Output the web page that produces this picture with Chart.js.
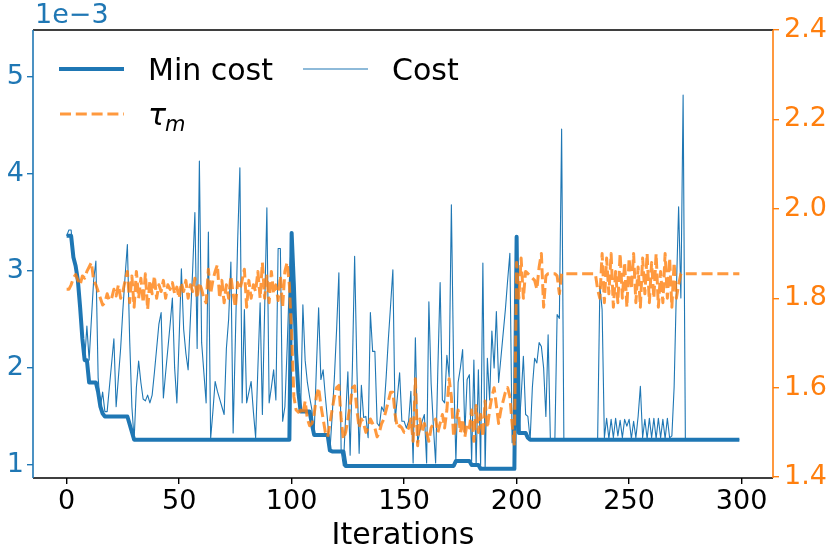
<!DOCTYPE html>
<html><head><meta charset="utf-8">
<script src="https://cdn.jsdelivr.net/npm/chart.js@4/dist/chart.umd.min.js"></script>
<style>html,body{margin:0;padding:0;background:#fff}canvas{display:block}</style>
</head><body>
<canvas id="c" width="830" height="554"></canvas>
<script>
// ---- data (cost values in units of 1e-3) ----
const xTicks = [0, 50, 100, 150, 200, 250, 300];
const yTicks = [1, 2, 3, 4, 5];
const tauTicks = [1.4, 1.6, 1.8, 2.0, 2.2, 2.4];
const offsetLabel = "1e\u22123";
const xLabel = "Iterations";
const seriesNames = ["Min cost", "Cost", "\u03c4"];

const minCost = [
3.36,3.36,3.36,3.14,3.05,2.9,2.62,2.3,2.08,2.08,
1.85,1.85,1.85,1.85,1.75,1.6,1.53,1.5,1.5,1.5,
1.5,1.5,1.5,1.5,1.5,1.5,1.5,1.5,1.42,1.34,
1.26,1.26,1.26,1.26,1.26,1.26,1.26,1.26,1.26,1.26,
1.26,1.26,1.26,1.26,1.26,1.26,1.26,1.26,1.26,1.26,
1.26,1.26,1.26,1.26,1.26,1.26,1.26,1.26,1.26,1.26,
1.26,1.26,1.26,1.26,1.26,1.26,1.26,1.26,1.26,1.26,
1.26,1.26,1.26,1.26,1.26,1.26,1.26,1.26,1.26,1.26,
1.26,1.26,1.26,1.26,1.26,1.26,1.26,1.26,1.26,1.26,
1.26,1.26,1.26,1.26,1.26,1.26,1.26,1.26,1.26,1.26,
3.39,2.85,2.15,1.75,1.55,1.55,1.55,1.55,1.55,1.42,
1.31,1.31,1.31,1.31,1.31,1.31,1.31,1.15,1.14,1.14,
1.14,1.14,1.14,1.14,0.99,0.99,0.99,0.99,0.99,0.99,
0.99,0.99,0.99,0.99,0.99,0.99,0.99,0.99,0.99,0.99,
0.99,0.99,0.99,0.99,0.99,0.99,0.99,0.99,0.99,0.99,
0.99,0.99,0.99,0.99,0.99,0.99,0.99,0.99,0.99,0.99,
0.99,0.99,0.99,0.99,0.99,0.99,0.99,0.99,0.99,0.99,
0.99,0.99,0.99,1.04,1.04,1.04,1.04,1.04,1.04,1.04,
1.0,1.0,1.0,1.0,0.96,0.96,0.96,0.96,0.96,0.96,
0.96,0.96,0.96,0.96,0.96,0.96,0.96,0.96,0.96,0.96,
3.35,1.33,1.33,1.33,1.33,1.28,1.26,1.26,1.26,1.26,
1.26,1.26,1.26,1.26,1.26,1.26,1.26,1.26,1.26,1.26,
1.26,1.26,1.26,1.26,1.26,1.26,1.26,1.26,1.26,1.26,
1.26,1.26,1.26,1.26,1.26,1.26,1.26,1.26,1.26,1.26,
1.26,1.26,1.26,1.26,1.26,1.26,1.26,1.26,1.26,1.26,
1.26,1.26,1.26,1.26,1.26,1.26,1.26,1.26,1.26,1.26,
1.26,1.26,1.26,1.26,1.26,1.26,1.26,1.26,1.26,1.26,
1.26,1.26,1.26,1.26,1.26,1.26,1.26,1.26,1.26,1.26,
1.26,1.26,1.26,1.26,1.26,1.26,1.26,1.26,1.26,1.26,
1.26,1.26,1.26,1.26,1.26,1.26,1.26,1.26,1.26,1.26
];

const cost = [
3.36,3.42,3.42,3.14,3.05,2.9,2.62,2.3,2.08,2.43,
2.08,2.5,2.9,3.1,1.9,1.6,1.75,1.55,1.55,1.8,
2.05,2.3,1.6,1.9,2.2,2.6,2.95,3.27,2.3,1.6,
1.26,1.8,2.07,1.85,1.68,1.66,1.72,1.64,1.72,1.95,
2.2,2.45,2.57,1.69,1.95,2.2,2.45,2.72,2.0,1.64,
2.3,3.02,2.4,2.15,1.98,2.5,3.0,3.6,2.2,4.13,
2.26,1.95,1.64,3.4,1.27,1.55,1.86,1.76,1.68,1.6,
1.52,2.2,2.5,3.09,1.33,2.3,3.3,4.06,1.64,2.6,
1.64,1.75,1.86,1.55,1.28,2.0,2.67,1.52,2.6,3.65,
1.64,1.8,1.98,1.67,3.23,3.23,1.45,1.6,2.2,2.9,
3.39,2.85,2.15,1.75,1.55,2.65,2.08,1.85,1.7,1.57,
1.31,2.0,2.62,1.88,1.98,1.7,1.45,1.14,1.5,1.9,
2.4,2.98,1.15,0.99,1.5,1.96,1.1,2.0,3.15,2.0,
1.12,1.82,1.49,1.5,1.28,2.57,2.17,2.17,1.43,1.4,
1.6,1.55,1.9,2.3,2.65,3.01,1.45,1.7,1.95,1.45,
1.45,1.38,1.45,1.76,1.02,2.31,1.23,1.35,1.45,1.52,
1.02,2.68,1.84,1.4,1.02,2.0,2.88,1.67,1.64,2.13,
1.91,3.68,2.0,1.04,1.85,2.0,2.19,1.33,1.88,1.93,
1.04,2.08,1.0,1.98,1.0,3.08,0.96,2.1,1.67,2.38,
2.0,2.58,1.85,2.1,2.35,2.6,2.9,3.18,1.23,1.6,
3.35,1.33,1.7,2.12,1.52,1.5,1.26,1.8,2.1,2.05,
2.26,2.22,2.0,1.5,2.34,1.26,1.26,1.26,2.55,2.51,
4.46,1.26,1.26,1.26,1.26,1.26,1.26,1.26,1.26,1.26,
1.26,1.26,1.26,1.26,1.26,1.26,1.26,2.84,2.6,1.28,
1.48,1.27,1.47,1.28,1.48,1.3,1.46,1.28,1.47,1.4,
1.47,1.27,1.45,1.28,1.5,1.81,1.28,1.47,1.27,1.48,
1.28,1.48,1.27,1.48,1.28,1.47,1.27,1.48,1.28,1.3,
1.8,2.8,3.66,2.72,4.81,1.26,1.26,1.26,1.26,1.26,
1.26,1.26,1.26,1.26,1.26,1.26,1.26,1.26,1.26,1.26,
1.26,1.26,1.26,1.26,1.26,1.26,1.26,1.26,1.26,1.26
];

const tau = [
1.82,1.82,1.83,1.845,1.853,1.84,1.83,1.85,1.845,1.86,
1.87,1.88,1.84,1.83,1.815,1.80,1.785,1.79,1.81,1.795,
1.80,1.82,1.805,1.83,1.80,1.815,1.84,1.86,1.79,1.85,
1.78,1.86,1.80,1.845,1.79,1.855,1.775,1.84,1.81,1.85,
1.80,1.83,1.815,1.84,1.80,1.83,1.82,1.835,1.81,1.825,
1.80,1.835,1.815,1.84,1.80,1.83,1.815,1.845,1.80,1.835,
1.82,1.80,1.79,1.865,1.81,1.84,1.86,1.875,1.80,1.84,
1.79,1.83,1.80,1.85,1.81,1.78,1.835,1.82,1.84,1.865,
1.78,1.84,1.80,1.83,1.815,1.86,1.80,1.88,1.80,1.85,
1.79,1.86,1.81,1.83,1.795,1.85,1.78,1.86,1.88,1.83,
1.72,1.58,1.55,1.545,1.55,1.54,1.57,1.53,1.515,1.52,
1.54,1.58,1.60,1.56,1.53,1.50,1.49,1.52,1.55,1.58,
1.60,1.605,1.53,1.485,1.50,1.53,1.56,1.60,1.604,1.55,
1.51,1.53,1.52,1.50,1.51,1.53,1.52,1.51,1.49,1.50,
1.52,1.53,1.55,1.57,1.59,1.59,1.54,1.51,1.515,1.51,
1.50,1.50,1.51,1.53,1.48,1.62,1.47,1.53,1.50,1.52,
1.50,1.48,1.51,1.52,1.53,1.50,1.52,1.54,1.51,1.55,
1.62,1.58,1.49,1.52,1.55,1.50,1.53,1.49,1.52,1.51,
1.55,1.48,1.56,1.50,1.54,1.49,1.57,1.51,1.55,1.58,
1.60,1.56,1.52,1.55,1.57,1.59,1.60,1.58,1.52,1.47,
1.88,1.80,1.89,1.80,1.86,1.855,1.85,1.845,1.84,1.82,
1.87,1.90,1.78,1.85,1.855,1.855,1.855,1.855,1.85,1.81,
1.855,1.855,1.855,1.855,1.855,1.855,1.855,1.855,1.855,1.855,
1.855,1.855,1.855,1.855,1.855,1.855,1.82,1.80,1.90,1.79,
1.89,1.81,1.90,1.78,1.86,1.79,1.90,1.80,1.88,1.78,
1.89,1.82,1.90,1.79,1.87,1.78,1.89,1.81,1.90,1.79,
1.88,1.80,1.90,1.78,1.86,1.79,1.90,1.80,1.89,1.78,
1.88,1.80,1.83,1.855,1.855,1.855,1.855,1.855,1.855,1.855,
1.855,1.855,1.855,1.855,1.855,1.855,1.855,1.855,1.855,1.855,
1.855,1.855,1.855,1.855,1.855,1.855,1.855,1.855,1.855,1.855
];

// ---- styling ----
const BLUE = '#1f77b4';
const ORANGE = '#ff7f0e';
const ORANGE_A = 'rgba(255,127,14,0.8)';
const FONT = "'DejaVu Sans', sans-serif";

const pts = arr => arr.map((v, i) => ({x: i, y: v}));

const decor = {
  id: 'decor',
  afterDraw(chart) {
    const ctx = chart.ctx, a = chart.chartArea;
    ctx.save();
    ctx.lineWidth = 1.6;
    ctx.strokeStyle = '#000';
    ctx.beginPath(); ctx.moveTo(a.left, a.top); ctx.lineTo(a.right, a.top);
    ctx.moveTo(a.left, a.bottom); ctx.lineTo(a.right, a.bottom); ctx.stroke();
    ctx.strokeStyle = BLUE;
    ctx.beginPath(); ctx.moveTo(a.left, a.top); ctx.lineTo(a.left, a.bottom); ctx.stroke();
    ctx.strokeStyle = ORANGE;
    ctx.beginPath(); ctx.moveTo(a.right, a.top); ctx.lineTo(a.right, a.bottom); ctx.stroke();

    // offset text
    ctx.fillStyle = BLUE;
    ctx.font = '27px ' + FONT;
    ctx.textAlign = 'left'; ctx.textBaseline = 'alphabetic';
    ctx.fillText(offsetLabel, 35, 23);

    // legend
    ctx.lineCap = 'butt';
    ctx.strokeStyle = BLUE;
    ctx.lineWidth = 4;
    ctx.beginPath(); ctx.moveTo(59, 69); ctx.lineTo(124, 69); ctx.stroke();
    ctx.lineWidth = 1.1;
    ctx.beginPath(); ctx.moveTo(303, 69); ctx.lineTo(368, 69); ctx.stroke();
    ctx.strokeStyle = ORANGE_A;
    ctx.lineWidth = 3;
    ctx.setLineDash([11, 4.8]);
    ctx.beginPath(); ctx.moveTo(60, 114); ctx.lineTo(124, 114); ctx.stroke();
    ctx.setLineDash([]);
    ctx.fillStyle = '#000';
    ctx.font = '30px ' + FONT;
    ctx.textBaseline = 'alphabetic';
    ctx.fillText(seriesNames[0], 148, 80);
    ctx.fillText(seriesNames[1], 392, 80);
    ctx.font = 'italic 30px ' + FONT;
    ctx.fillText(seriesNames[2], 148, 125);
    ctx.font = 'italic 21px ' + FONT;
    ctx.fillText('m', 165, 131);
    ctx.restore();
  }
};

new Chart(document.getElementById('c'), {
  type: 'line',
  data: {
    datasets: [
      { label: 'tau', data: pts(tau), yAxisID: 'y2', order: 0,
        borderColor: ORANGE_A, borderWidth: 3, borderDash: [11, 4.8],
        pointRadius: 0, tension: 0, fill: false, borderJoinStyle: 'round' },
      { label: 'Cost', data: pts(cost), yAxisID: 'y', order: 1,
        borderColor: BLUE, borderWidth: 1.1, pointRadius: 0, tension: 0,
        fill: false, borderJoinStyle: 'round' },
      { label: 'Min cost', data: pts(minCost), yAxisID: 'y', order: 2,
        borderColor: BLUE, borderWidth: 4, pointRadius: 0, tension: 0,
        fill: false, borderJoinStyle: 'round' }
    ]
  },
  options: {
    responsive: false, animation: false, devicePixelRatio: 1,
    layout: { padding: { top: 30, left: 0, right: 0, bottom: 0 } },
    plugins: { legend: { display: false }, tooltip: { enabled: false } },
    scales: {
      x: {
        type: 'linear', position: 'bottom', min: -14.95, max: 313.95,
        afterBuildTicks: s => { s.ticks = xTicks.map(v => ({value: v})); },
        afterFit: s => { s.height = 76; },
        border: { display: false },
        grid: { drawOnChartArea: false, drawTicks: true, tickLength: 6, color: '#000', lineWidth: 1.4 },
        ticks: { color: '#000', font: { family: FONT, size: 27 }, padding: 2, maxRotation: 0, autoSkip: false },
        title: { display: true, text: xLabel, color: '#000', font: { family: FONT, size: 30 }, padding: { top: 0, bottom: 0 } }
      },
      y: {
        position: 'left', min: 0.866, max: 5.48,
        afterBuildTicks: s => { s.ticks = yTicks.map(v => ({value: v})); },
        afterFit: s => { s.width = 33; },
        border: { display: false },
        grid: { drawOnChartArea: false, drawTicks: true, tickLength: 6, color: BLUE, lineWidth: 1.4 },
        ticks: { color: BLUE, font: { family: FONT, size: 27 }, padding: 3, callback: v => String(v) }
      },
      y2: {
        position: 'right', min: 1.398, max: 2.4,
        afterBuildTicks: s => { s.ticks = tauTicks.map(v => ({value: v})); },
        afterFit: s => { s.width = 57; },
        border: { display: false },
        grid: { drawOnChartArea: false, drawTicks: true, tickLength: 6, color: ORANGE, lineWidth: 1.4 },
        ticks: { color: ORANGE, font: { family: FONT, size: 27 }, padding: 5, callback: v => v.toFixed(1) }
      }
    }
  },
  plugins: [decor]
});
</script>
</body></html>
